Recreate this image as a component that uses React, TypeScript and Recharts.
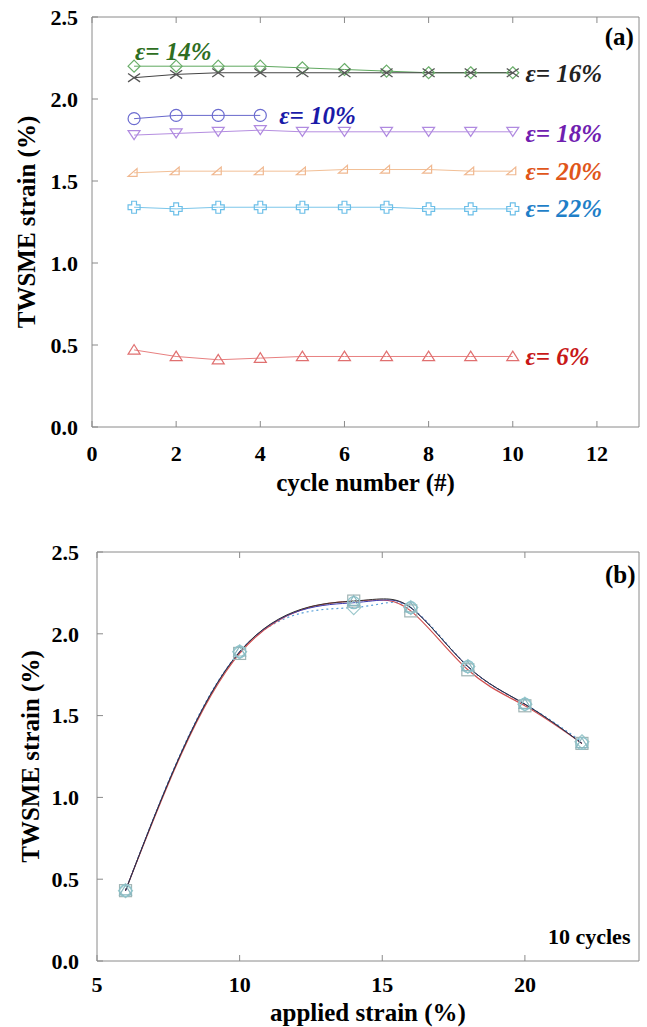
import React from "react"
import { LineChart, Line, XAxis, YAxis, ReferenceDot } from "recharts"

// panel (a): TWSME strain vs cycle number, one series per applied strain
const cycles = [1, 2, 3, 4, 5, 6, 7, 8, 9, 10]
const e14 = [2.2, 2.2, 2.2, 2.2, 2.19, 2.18, 2.17, 2.16, 2.16, 2.16]
const e16 = [2.13, 2.15, 2.16, 2.16, 2.16, 2.16, 2.16, 2.16, 2.16, 2.16]
const e10 = [1.88, 1.9, 1.9, 1.9]
const e18 = [1.78, 1.79, 1.8, 1.81, 1.8, 1.8, 1.8, 1.8, 1.8, 1.8]
const e20 = [1.55, 1.56, 1.56, 1.56, 1.56, 1.57, 1.57, 1.57, 1.56, 1.56]
const e22 = [1.34, 1.33, 1.34, 1.34, 1.34, 1.34, 1.34, 1.33, 1.33, 1.33]
const e6 = [0.47, 0.43, 0.41, 0.42, 0.43, 0.43, 0.43, 0.43, 0.43, 0.43]
const cycleTicks = [0, 2, 4, 6, 8, 10, 12]
const strainTicksY = [0, 0.5, 1, 1.5, 2, 2.5]

// panel (b): TWSME strain vs applied strain, 10 cycles
const applied = [6, 10, 14, 16, 18, 20, 22]
const curveBlack = [0.43, 1.89, 2.2, 2.16, 1.8, 1.57, 1.33]
const curveRed = [0.43, 1.88, 2.2, 2.14, 1.78, 1.56, 1.33]
const curveBlue = [0.43, 1.89, 2.19, 2.16, 1.8, 1.57, 1.33]
const curveDotted = [0.43, 1.89, 2.16, 2.16, 1.8, 1.57, 1.34]
const appliedTicks = [5, 10, 15, 20]

const dataA = cycles.map((c, i) => ({
  cycle: c,
  e14: e14[i],
  e16: e16[i],
  e10: e10[i],
  e18: e18[i],
  e20: e20[i],
  e22: e22[i],
  e6: e6[i],
}))

const dataB = applied.map((s, i) => ({
  strain: s,
  black: curveBlack[i],
  red: curveRed[i],
  blue: curveBlue[i],
  dotted: curveDotted[i],
}))

const FONT = "Liberation Serif"
const AXIS = "#8a8a8a"
const tickStyle = { fill: "#000", fontFamily: FONT, fontWeight: 700, fontSize: 22 }
const titleStyle = { fill: "#000", fontFamily: FONT, fontWeight: 700, fontSize: 25 }

function marker(shape: string, color: string, s = 6) {
  return (p: any) => {
    const { cx, cy, index } = p
    const key = `m-${shape}-${index}`
    if (cx == null || cy == null || p.value == null) return <g key={key} />
    const common = { fill: "none", stroke: color, strokeWidth: 1.2 }
    switch (shape) {
      case "diamond":
        return <polygon key={key} {...common} points={`${cx},${cy - s} ${cx + s},${cy} ${cx},${cy + s} ${cx - s},${cy}`} />
      case "x":
        return (
          <g key={key} stroke={color} strokeWidth={1.3}>
            <line x1={cx - s} y1={cy - s * 0.7} x2={cx + s} y2={cy + s * 0.7} />
            <line x1={cx - s} y1={cy + s * 0.7} x2={cx + s} y2={cy - s * 0.7} />
          </g>
        )
      case "circle":
        return <circle key={key} {...common} cx={cx} cy={cy} r={s} />
      case "tri-down":
        return <polygon key={key} {...common} points={`${cx - s},${cy - s * 0.75} ${cx + s},${cy - s * 0.75} ${cx},${cy + s * 0.75}`} />
      case "tri-corner":
        return <polygon key={key} {...common} points={`${cx - s},${cy + s * 0.6} ${cx + s * 0.5},${cy + s * 0.6} ${cx + s * 0.5},${cy - s * 0.7}`} />
      case "plus": {
        const a = s * 0.4
        const d = `M${cx - a},${cy - s} H${cx + a} V${cy - a} H${cx + s} V${cy + a} H${cx + a} V${cy + s} H${cx - a} V${cy + a} H${cx - s} V${cy - a} H${cx - a} Z`
        return <path key={key} {...common} d={d} />
      }
      case "tri-up":
        return <polygon key={key} {...common} points={`${cx - s},${cy + s * 0.7} ${cx + s},${cy + s * 0.7} ${cx},${cy - s * 0.9}`} />
      case "square":
        return <rect key={key} {...common} x={cx - s} y={cy - s} width={s * 2} height={s * 2} />
      default:
        return <g key={key} />
    }
  }
}

function textLabel(text: string, color: string, anchor: "start" | "end" = "start", italic = true, size = 25) {
  return (p: any) => {
    const vb = p.viewBox || {}
    return (
      <text
        x={vb.x}
        y={vb.y}
        fill={color}
        textAnchor={anchor}
        dominantBaseline="central"
        fontFamily={FONT}
        fontWeight={700}
        fontStyle={italic ? "italic" : "normal"}
        fontSize={size}
      >
        {text}
      </text>
    )
  }
}

const noTick = () => <g />

function PanelA() {
  return (
    <LineChart width={647} height={500} data={dataA} margin={{ top: 16, right: 0, left: 0, bottom: 0 }}>
      <XAxis
        dataKey="cycle"
        type="number"
        domain={[0, 13]}
        ticks={cycleTicks}
        allowDataOverflow
        height={73}
        stroke={AXIS}
        tickSize={-6}
        tickMargin={24}
        tick={tickStyle}
        label={{ value: "cycle number (#)", position: "insideBottom", offset: 9, ...titleStyle }}
      />
      <XAxis xAxisId="t" orientation="top" dataKey="cycle" type="number" domain={[0, 13]} ticks={cycleTicks} allowDataOverflow height={1} stroke={AXIS} tickSize={-6} tick={noTick} />
      <YAxis
        type="number"
        domain={[0, 2.5]}
        ticks={strainTicksY}
        width={92}
        stroke={AXIS}
        tickSize={-6}
        tickMargin={20}
        tick={tickStyle}
        tickFormatter={(v: number) => v.toFixed(1)}
        label={{ value: "TWSME strain (%)", angle: -90, position: "insideLeft", offset: 26, style: { textAnchor: "middle" }, ...titleStyle }}
      />
      <YAxis yAxisId="r" orientation="right" type="number" domain={[0, 2.5]} ticks={strainTicksY} width={8} stroke={AXIS} tickSize={-6} tick={noTick} />

      <Line dataKey="e14" stroke="#5fa85f" strokeWidth={1} dot={marker("diamond", "#6aae6a", 6)} isAnimationActive={false} />
      <Line dataKey="e16" stroke="#444" strokeWidth={1} dot={marker("x", "#555", 6)} isAnimationActive={false} />
      <Line dataKey="e10" stroke="#6868cc" strokeWidth={1} dot={marker("circle", "#6c6cd0", 6)} isAnimationActive={false} />
      <Line dataKey="e18" stroke="#b58ee0" strokeWidth={1} dot={marker("tri-down", "#b08ae0", 6)} isAnimationActive={false} />
      <Line dataKey="e20" stroke="#f2bf96" strokeWidth={1} dot={marker("tri-corner", "#f0b890", 6)} isAnimationActive={false} />
      <Line dataKey="e22" stroke="#7cc6ea" strokeWidth={1} dot={marker("plus", "#6cbfe8", 6)} isAnimationActive={false} />
      <Line dataKey="e6" stroke="#e88080" strokeWidth={1} dot={marker("tri-up", "#e07070", 6)} isAnimationActive={false} />

      <ReferenceDot x={1.02} y={2.29} r={0} label={textLabel("ε= 14%", "#2e6e22")} />
      <ReferenceDot x={10.3} y={2.155} r={0} label={textLabel("ε= 16%", "#222")} />
      <ReferenceDot x={4.45} y={1.9} r={0} label={textLabel("ε= 10%", "#1a1aa8")} />
      <ReferenceDot x={10.3} y={1.79} r={0} label={textLabel("ε= 18%", "#7020b0")} />
      <ReferenceDot x={10.3} y={1.56} r={0} label={textLabel("ε= 20%", "#e0561a")} />
      <ReferenceDot x={10.3} y={1.335} r={0} label={textLabel("ε= 22%", "#1f7fc8")} />
      <ReferenceDot x={10.3} y={0.43} r={0} label={textLabel("ε= 6%", "#c81818")} />
      <ReferenceDot x={12.88} y={2.38} r={0} label={textLabel("(a)", "#000", "end", false, 25)} />
    </LineChart>
  )
}

function PanelB() {
  return (
    <LineChart width={647} height={497} data={dataB} margin={{ top: 21, right: 0, left: 0, bottom: 0 }}>
      <XAxis
        dataKey="strain"
        type="number"
        domain={[5, 24]}
        ticks={appliedTicks}
        allowDataOverflow
        height={66}
        stroke={AXIS}
        tickSize={-6}
        tickMargin={21}
        tick={tickStyle}
        label={{ value: "applied strain (%)", position: "insideBottom", offset: 6, ...titleStyle }}
      />
      <XAxis xAxisId="t" orientation="top" dataKey="strain" type="number" domain={[5, 24]} ticks={appliedTicks} allowDataOverflow height={1} stroke={AXIS} tickSize={-6} tick={noTick} />
      <YAxis
        type="number"
        domain={[0, 2.5]}
        ticks={strainTicksY}
        width={97}
        stroke={AXIS}
        tickSize={-6}
        tickMargin={24}
        tick={tickStyle}
        tickFormatter={(v: number) => v.toFixed(1)}
        label={{ value: "TWSME strain (%)", angle: -90, position: "insideLeft", offset: 30, style: { textAnchor: "middle" }, ...titleStyle }}
      />
      <YAxis yAxisId="r" orientation="right" type="number" domain={[0, 2.5]} ticks={strainTicksY} width={8} stroke={AXIS} tickSize={-6} tick={noTick} />

      <Line type="natural" dataKey="dotted" stroke="#5aa0d8" strokeWidth={1.2} strokeDasharray="2 3" dot={marker("diamond", "#9cc8cc", 7)} isAnimationActive={false} />
      <Line type="natural" dataKey="red" stroke="#d05050" strokeWidth={1.2} dot={marker("square", "#a0b4b4", 6)} isAnimationActive={false} />
      <Line type="natural" dataKey="blue" stroke="#3a3ab0" strokeWidth={1} dot={marker("circle", "#8cc4cc", 6)} isAnimationActive={false} />
      <Line type="natural" dataKey="black" stroke="#333" strokeWidth={1} dot={marker("tri-up", "#8ab8c0", 6)} isAnimationActive={false} />

      <ReferenceDot x={23.88} y={2.36} r={0} label={textLabel("(b)", "#000", "end", false, 25)} />
      <ReferenceDot x={23.7} y={0.15} r={0} label={textLabel("10 cycles", "#000", "end", false, 22)} />
    </LineChart>
  )
}

export default function App() {
  return (
    <div style={{ position: "absolute", left: 0, top: 0, width: 647, height: 1027, background: "#fff" }}>
      <div style={{ position: "absolute", left: 0, top: 0 }}>
        <PanelA />
      </div>
      <div style={{ position: "absolute", left: 0, top: 530 }}>
        <PanelB />
      </div>
    </div>
  )
}
